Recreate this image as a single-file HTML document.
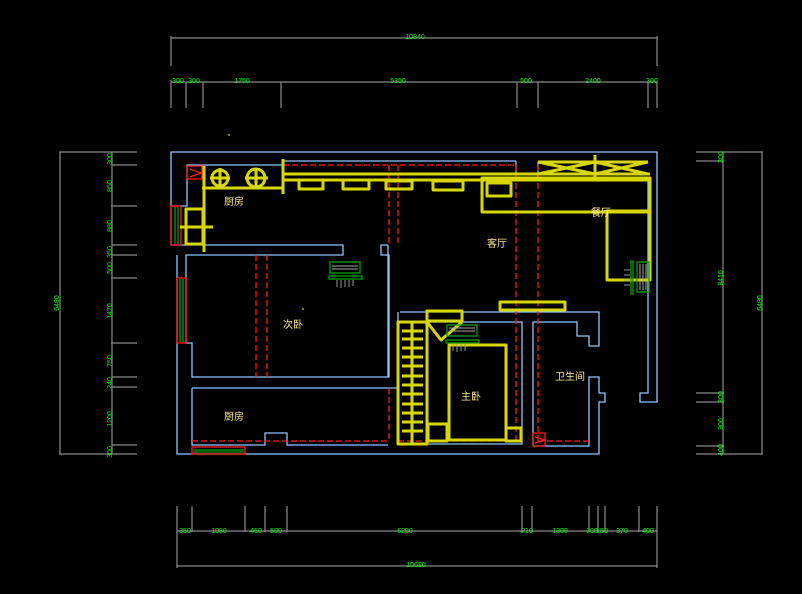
<!DOCTYPE html>
<html><head><meta charset="utf-8"><style>
html,body{margin:0;padding:0;background:#000;}
svg{display:block;}
.d{stroke:#8a8a8a;stroke-width:1.2;fill:none;}
.t{fill:#00ff00;font-family:"Liberation Sans",sans-serif;font-size:7px;text-anchor:middle;}
.w{stroke:#8cc8ff;stroke-width:1.3;fill:none;}
.y{stroke:#d8d800;stroke-width:3;fill:none;stroke-linejoin:round;}
.r{stroke:#ff1a1a;stroke-width:1.3;fill:none;stroke-dasharray:6 3;}
.rs{stroke:#ff1a1a;stroke-width:1.3;fill:none;}
.g{stroke:#00a000;stroke-width:1.3;fill:none;}
.lb{fill:#ffe98a;font-family:"Liberation Sans","Noto Sans CJK SC",sans-serif;font-size:10px;text-anchor:middle;}
</style></head><body>
<svg width="802" height="594" viewBox="0 0 802 594" xmlns="http://www.w3.org/2000/svg">
<path class="d" d="M171 38H657M171 36V66M657 36V66M171 82H657M171 80V108M186 82V108M203 82V108M281 82V108M517 82V108M538 82V108M648 82V108M657 82V108"/>
<text class="t" x="415" y="39">10840</text>
<text class="t" x="178" y="83">300</text><text class="t" x="194" y="83">300</text><text class="t" x="242" y="83">1750</text><text class="t" x="398" y="83">5350</text><text class="t" x="526" y="83">500</text><text class="t" x="593" y="83">2400</text><text class="t" x="652" y="83">300</text>
<path class="d" d="M177 531H657M177 506V568M192 506V532M245 506V532M265 506V532M287 506V532M522 506V532M532 506V532M589 506V532M598 506V532M605 506V532M639 506V532M657 506V568M177 566H657"/>
<text class="t" x="185" y="533">350</text><text class="t" x="219" y="533">1080</text><text class="t" x="256" y="533">450</text><text class="t" x="276" y="533">500</text><text class="t" x="405" y="533">6290</text><text class="t" x="527" y="533">210</text><text class="t" x="560" y="533">1300</text><text class="t" x="592" y="533">200</text><text class="t" x="602" y="533">150</text><text class="t" x="622" y="533">370</text><text class="t" x="648" y="533">400</text>
<text class="t" x="416" y="567">10680</text>
<path class="d" d="M60 152V454M59 152H137M59 454H137M112 152V454M112 165H137M111 206H137M112 245H137M112 255H137M111 278H137M111 343H137M112 377H137M112 387H137M112 445H137"/>
<g class="t">
<text transform="translate(112,159) rotate(-90)">300</text>
<text transform="translate(112,186) rotate(-90)">850</text>
<text transform="translate(112,226) rotate(-90)">880</text>
<text transform="translate(112,252) rotate(-90)">350</text>
<text transform="translate(112,268) rotate(-90)">500</text>
<text transform="translate(112,311) rotate(-90)">1470</text>
<text transform="translate(112,361) rotate(-90)">750</text>
<text transform="translate(112,383) rotate(-90)">240</text>
<text transform="translate(112,419) rotate(-90)">1200</text>
<text transform="translate(112,452) rotate(-90)">300</text>
<text transform="translate(59,303) rotate(-90)">6480</text>
</g>
<path class="d" d="M696 152H763M696 161H723M723 152V454M696 393H724M696 402H724M696 446H724M696 454H763M762 152V454"/>
<g class="t">
<text transform="translate(723,157) rotate(-90)">300</text>
<text transform="translate(723,278) rotate(-90)">8410</text>
<text transform="translate(723,397) rotate(-90)">300</text>
<text transform="translate(723,424) rotate(-90)">900</text>
<text transform="translate(723,450) rotate(-90)">400</text>
<text transform="translate(762,303) rotate(-90)">6480</text>
</g>
<path class="w" d="M171 245V152H657V402H640V393H648V178H538V162M516 161H283V165H187V206H171"/>
<path class="w" d="M516 161V174H538"/>
<path class="w" d="M171 245H343V255H186V343H192V377H389V255H381V245H388M177 255V454H599V402H605V393H599V377H589V446H533V322H577V336H589V346H599V312H400"/>
<path class="w" d="M192 388H398M192 388V445H265V433H287V445H388M398 312V322H522V444H398"/>
<path class="w" d="M388 245V377"/>
<path class="r" d="M283 165H516M389 165V245M398 165V245M256 255V377M267 255V377M516 165V444M538 165V444M389 388V441M192 441H389M398 441H522M538 441H589"/>
<rect class="rs" x="187" y="166" width="15" height="13"/>
<path class="rs" d="M190 169L201 173L190 177" />
<rect class="rs" x="171" y="206" width="10" height="39"/><path class="g" d="M175 207V244M178 207V244"/>
<rect class="rs" x="177" y="278" width="9" height="65"/><path class="g" d="M180 279V342M183 279V342"/>
<rect class="rs" x="192" y="447" width="53" height="7"/><path class="g" d="M193 450H244M193 452H244"/>
<rect class="rs" x="533" y="433" width="12" height="13"/><path class="rs" d="M535 437L544 440L535 443"/>
<g class="y">
<path d="M204 166V252M202 188H283M283 159V194M210 178H230M220 168V188M245 178H268M256 168V188"/>
<circle cx="220" cy="178" r="8"/><circle cx="256" cy="178" r="9"/>
<rect x="186" y="209" width="17" height="35"/><path d="M180 227H213"/>
<path d="M283 174H650M283 180H650"/>
<rect x="299" y="180" width="24" height="9"/><rect x="343" y="180" width="26" height="9"/><rect x="386" y="181" width="26" height="8"/><rect x="433" y="181" width="30" height="9"/>
<rect x="482" y="178" width="168" height="34"/><rect x="487" y="183" width="24" height="13"/>
<rect x="607" y="211" width="43" height="69"/>
<path d="M538 162H648M538 162L595 174M595 162L538 174M595 162L648 174M648 162L595 174M595 155V178"/>
<rect x="500" y="302" width="65" height="8"/>
<rect x="398" y="322" width="29" height="122"/>
<path d="M402 331H423M402 339H423M402 348H423M402 357H423M402 366H423M402 376H423M402 385H423M402 394H423M402 404H423M402 413H423M402 422H423M402 431H423M412 322V444"/>
<rect x="427" y="311" width="35" height="10"/><path d="M427 322L441 340L462 322"/>
<rect x="449" y="345" width="57" height="95"/>
<rect x="428" y="424" width="19" height="17"/><rect x="506" y="428" width="15" height="13"/>
</g>
<rect class="g" x="330" y="262" width="30" height="11"/><path d="M332 266H358M332 269H358" stroke="#aaa"/>
<rect class="g" x="329" y="276" width="33" height="3"/><path d="M337 280V287M341 280V288M345 280V287M349 280V287M353 280V286" stroke="#999"/>
<rect class="g" x="447" y="325" width="30" height="11"/><path d="M449 328H475M449 331H475" stroke="#aaa"/>
<rect class="g" x="446" y="340" width="33" height="3"/><path d="M453 344V351M457 344V352M461 344V351M465 344V351" stroke="#999"/>
<rect class="g" x="637" y="262" width="12" height="30"/><rect class="g" x="631" y="261" width="2" height="33"/>
<path d="M640 264V290M643 264V290M646 264V290" stroke="#aaa"/>
<path d="M624 270H630M624 275H630M624 280H630M624 285H630" stroke="#999"/>
<circle cx="229" cy="135" r="1.2" fill="#880"/><circle cx="303" cy="309" r="1.2" fill="#880"/>
<text class="lb" x="234" y="205">厨房</text>
<text class="lb" x="293" y="328">次卧</text>
<text class="lb" x="234" y="420">厨房</text>
<text class="lb" x="497" y="247">客厅</text>
<text class="lb" x="601" y="216">餐厅</text>
<text class="lb" x="471" y="400">主卧</text>
<text class="lb" x="570" y="380">卫生间</text>
</svg>
</body></html>
